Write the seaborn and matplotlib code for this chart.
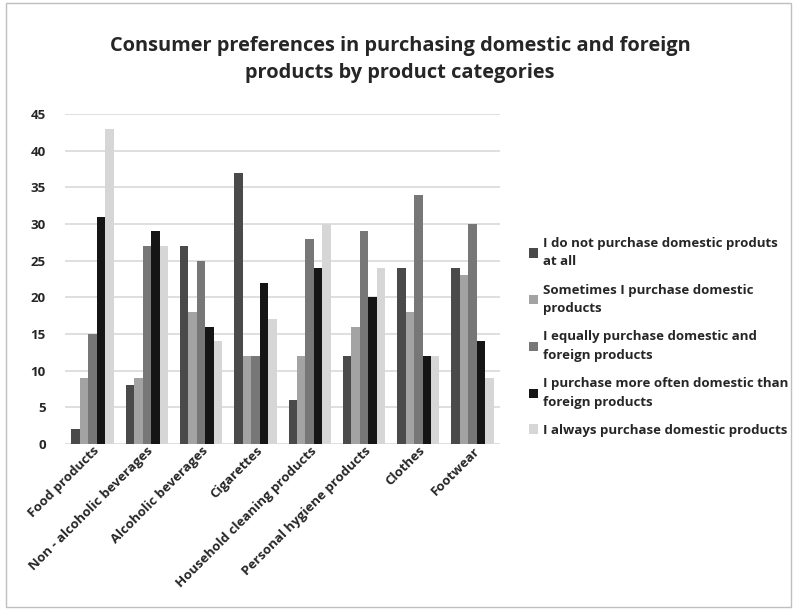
import matplotlib
matplotlib.use("Agg")
import matplotlib.pyplot as plt
import seaborn as sns
import pandas as pd

categories = ["Food products", "Non - alcoholic beverages", "Alcoholic beverages",
              "Cigarettes", "Household cleaning products", "Personal hygiene products",
              "Clothes", "Footwear"]

series = ["I do not purchase domestic produts\nat all",
          "Sometimes I purchase domestic\nproducts",
          "I equally purchase domestic and\nforeign products",
          "I purchase more often domestic than\nforeign products",
          "I always purchase domestic products"]

not_at_all = [2, 8, 27, 37, 6, 12, 24, 24]
sometimes = [9, 9, 18, 12, 12, 16, 18, 23]
equally = [15, 27, 25, 12, 28, 29, 34, 30]
more_often = [31, 29, 16, 22, 24, 20, 12, 14]
always = [43, 27, 14, 17, 30, 24, 12, 9]

colors = ["#4a4a4a", "#a3a3a3", "#777777", "#151515", "#d6d6d6"]

rows = []
for name, vals in zip(series, [not_at_all, sometimes, equally, more_often, always]):
    for cat, v in zip(categories, vals):
        rows.append({"category": cat, "series": name, "value": v})
df = pd.DataFrame(rows)

sns.set_style("white")
plt.rcParams["font.family"] = ["Open Sans", "DejaVu Sans"]
plt.rcParams["font.weight"] = "bold"

fig = plt.figure(figsize=(7.97, 6.10), dpi=100)
ax = fig.add_axes([0.082, 0.272, 0.545, 0.541])

sns.barplot(data=df, x="category", y="value", hue="series", palette=colors,
            width=0.78, ax=ax, edgecolor="none", saturation=1)

ax.set_ylim(0, 45)
ax.set_yticks(range(0, 46, 5))
ax.yaxis.grid(True, color="#d9d9d9", linewidth=1.2)
ax.set_axisbelow(True)
for s in ax.spines.values():
    s.set_visible(False)
ax.set_xlabel("")
ax.set_ylabel("")
ax.tick_params(axis="y", length=0, pad=14, labelsize=9.5)
ax.tick_params(axis="x", length=0, pad=0, labelsize=9.5)
plt.setp(ax.get_xticklabels(), rotation=45, ha="right", rotation_mode="anchor")
for t in ax.get_yticklabels() + ax.get_xticklabels():
    t.set_fontweight("bold")

leg = ax.legend(loc="center left", bbox_to_anchor=(1.04, 0.325), frameon=False,
                fontsize=9.5, handlelength=0.7, handleheight=0.7,
                handletextpad=0.4, labelspacing=1.15)
for t in leg.get_texts():
    t.set_fontweight("bold")
    t.set_linespacing(1.55)

fig.text(0.502, 0.902, "Consumer preferences in purchasing domestic and foreign\nproducts by product categories",
         ha="center", va="center", fontsize=14.4, fontweight="bold", linespacing=1.45)

fig.patches.append(plt.Rectangle((0.008, 0.005), 0.984, 0.99, transform=fig.transFigure,
                                 fill=False, edgecolor="#bfbfbf", linewidth=1))

fig.savefig("out.png", dpi=100)
